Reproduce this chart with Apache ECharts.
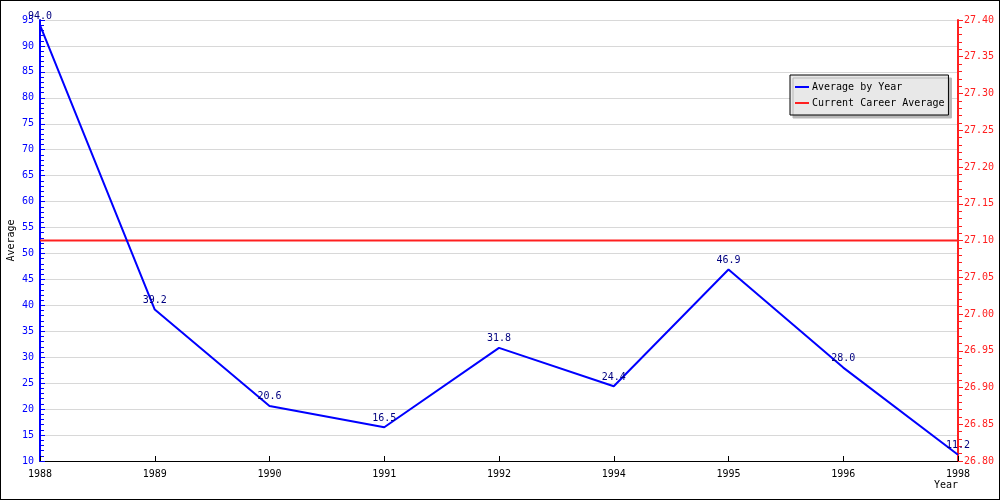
<!DOCTYPE html>
<html><head><meta charset="utf-8">
<script src="https://cdn.jsdelivr.net/npm/echarts@6/dist/echarts.min.js"></script>
<style>html,body{margin:0;padding:0;background:#fff}#c{width:1000px;height:500px;box-sizing:border-box;border:1px solid #000}</style>
</head><body><div id="c"></div>
<script>
var years = ['1988','1989','1990','1991','1992','1994','1995','1996','1998'];
var avgByYear = [94.0, 39.2, 20.6, 16.5, 31.8, 24.4, 46.9, 28.0, 11.2];
var careerAvg = 27.10;
var careerLine = years.map(function(){ return careerAvg; });
var FONT = 'DejaVu Sans Mono';
var FS = 10;
var chart = echarts.init(document.getElementById('c'));
chart.setOption({
  animation: false,
  textStyle: { fontFamily: FONT, fontSize: FS },
  grid: { left: 39, right: 41, top: 19, bottom: 38, outerBoundsMode: 'none', containLabel: false },
  legend: {
    orient: 'vertical', left: 789, top: 74,
    backgroundColor: '#e8e8e8', borderColor: '#000', borderWidth: 1,
    shadowColor: '#b8b8b8', shadowOffsetX: 3, shadowOffsetY: 3, shadowBlur: 0,
    padding: [6, 4, 6, 5], itemGap: 4, itemWidth: 14, itemHeight: 2,
    icon: 'rect',
    textStyle: { fontFamily: FONT, fontSize: FS, color: '#000', padding: [0,0,0,-2], lineHeight: 12 },
    data: [
      { name: 'Average by Year', itemStyle: { color: '#0000ff', opacity: 1 } },
      { name: 'Current Career Average', itemStyle: { color: '#ff2020' } }
    ]
  },
  xAxis: {
    type: 'category', data: years, boundaryGap: false,
    name: 'Year', nameLocation: 'end', nameGap: 0,
    nameTextStyle: { fontFamily: FONT, fontSize: FS, color: '#000', align: 'right', verticalAlign: 'top', padding: [19, 0, 0, 0] },
    axisLine: { lineStyle: { color: '#000', width: 1 } },
    axisTick: { inside: true, length: 5, lineStyle: { color: '#000' } },
    axisLabel: { color: '#000', fontFamily: FONT, fontSize: FS, margin: 8 },
    splitLine: { show: false }
  },
  yAxis: [{
    type: 'value', min: 10, max: 95, interval: 5, position: 'left',
    name: 'Average', nameLocation: 'middle', nameGap: 24, nameRotate: 90, nameMoveOverlap: false,
    nameTextStyle: { fontFamily: FONT, fontSize: FS, color: '#000' },
    axisLine: { show: true, lineStyle: { color: '#0000ff', width: 2 } },
    axisTick: { show: true, inside: true, length: 5, lineStyle: { color: '#0000ff' } },
    minorTick: { show: true, splitNumber: 5, length: 4, lineStyle: { color: '#0000ff' } },
    axisLabel: { color: '#0000ff', fontFamily: FONT, fontSize: FS, margin: 6 },
    splitLine: { show: true, lineStyle: { color: '#d8d8d8', width: 1 } }
  }, {
    type: 'value', min: 26.80, max: 27.40, interval: 0.05, position: 'right',
    axisLine: { show: true, lineStyle: { color: '#ff2020', width: 2 } },
    axisTick: { show: true, length: 5, lineStyle: { color: '#ff2020' } },
    minorTick: { show: true, splitNumber: 5, length: 4, lineStyle: { color: '#ff2020' } },
    axisLabel: { color: '#ff2020', fontFamily: FONT, fontSize: FS, margin: 6,
      formatter: function(v){ return v.toFixed(2); } },
    splitLine: { show: false }
  }],
  series: [{
    name: 'Average by Year', type: 'line', yAxisIndex: 0, data: avgByYear,
    symbol: 'circle', symbolSize: 0.5, showSymbol: true,
    itemStyle: { color: '#0000ff' },
    color: '#0000ff', lineStyle: { color: '#0000ff', width: 2 },
    label: { show: true, position: 'top', distance: 4, color: '#000080', fontFamily: FONT, fontSize: FS,
      formatter: function(p){ return p.value.toFixed(1); } },
    labelLayout: { hideOverlap: false },
    z: 3
  }, {
    name: 'Current Career Average', type: 'line', yAxisIndex: 1, data: careerLine,
    symbol: 'none', color: '#ff2020', lineStyle: { color: '#ff2020', width: 2 }, z: 2
  }]
});
</script></body></html>
